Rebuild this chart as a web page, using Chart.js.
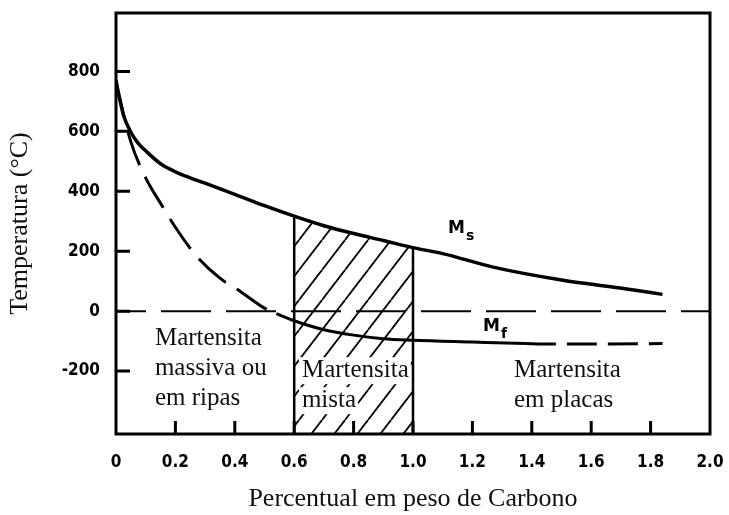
<!DOCTYPE html>
<html>
<head>
<meta charset="utf-8">
<script src="https://cdn.jsdelivr.net/npm/chart.js@4.4.1/dist/chart.umd.min.js"></script>
<style>
  html, body { margin: 0; padding: 0; background: #fff; }
</style>
</head>
<body>
<canvas id="martChart" width="729" height="515"></canvas>
<script>
// Valores (temperatura em °C x % em peso de carbono)
const xTicks = [0, 0.2, 0.4, 0.6, 0.8, 1.0, 1.2, 1.4, 1.6, 1.8, 2.0];
const xTickLabels = ['0', '0.2', '0.4', '0.6', '0.8', '1.0', '1.2', '1.4', '1.6', '1.8', '2.0'];
const yTicks = [-200, 0, 200, 400, 600, 800];
const yTickLabels = ['-200', '0', '200', '400', '600', '800'];

// Curva Ms (início da martensita)
const msCarbon = [0, 0.01, 0.025, 0.05, 0.075, 0.1, 0.15, 0.2, 0.25, 0.3, 0.4, 0.5, 0.6, 0.7, 0.8, 0.9, 1.0, 1.1, 1.27, 1.5, 1.72, 1.84];
const msTemp   = [770, 720, 655, 597, 560, 535, 492, 465, 445, 427, 390, 352, 317, 285, 259, 236, 212, 192, 147, 104, 74, 56];

// Curva Mf (fim da martensita)
const mfCarbon = [0, 0.05, 0.1, 0.15, 0.2, 0.27, 0.35, 0.42, 0.5, 0.54, 0.6, 0.7, 0.8, 0.9, 1.0, 1.2, 1.38, 1.5, 1.65, 1.84];
const mfTemp   = [760, 565, 445, 360, 280, 185, 110, 65, 10, -8, -32, -62, -80, -92, -97, -103, -108, -110, -110, -108];

// Faixa da martensita mista e linha de 0 °C
const mistaLimits = [0.6, 1.0];
const zeroCarbon = [0, 2.0];
const zeroTemp = [0, 0];

const yMin = -410, yMax = 995;
const mfSolidFrom = 0.54, mfSolidTo = 1.38;

const toPoints = (xs, ys) => xs.map((v, i) => ({ x: v, y: ys[i] }));
const msPoints = toPoints(msCarbon, msTemp);
const mistaPoints = msPoints.filter(p => p.x >= mistaLimits[0] && p.x <= mistaLimits[1]);

// Padrão hachurado para a região mista
function hatchPattern() {
  const w = 23, h = 30;
  const c = document.createElement('canvas');
  c.width = w; c.height = h;
  const g = c.getContext('2d');
  g.strokeStyle = '#000';
  g.lineWidth = 1.8;
  for (const dx of [-w, 0, w]) {
    g.beginPath();
    g.moveTo(dx, h);
    g.lineTo(dx + w, 0);
    g.stroke();
  }
  return g.createPattern(c, 'repeat');
}

const regionLabels = [
  { lines: ['Martensita', 'massiva ou', 'em ripas'], x: 0.131, y: -90, box: false },
  { lines: ['Martensita', 'mista'], x: 0.626, y: -197, box: true },
  { lines: ['Martensita', 'em placas'], x: 1.34, y: -197, box: false }
];

// Moldura, marcas internas e textos
const extras = {
  id: 'extras',
  afterDatasetsDraw(chart) {
    const { ctx, chartArea: a, scales: { x, y } } = chart;
    ctx.save();
    ctx.strokeStyle = '#000';
    ctx.lineWidth = 3;
    ctx.strokeRect(a.left, a.top, a.right - a.left, a.bottom - a.top);
    ctx.beginPath();
    yTicks.forEach(v => {
      const py = y.getPixelForValue(v);
      ctx.moveTo(a.left, py);
      ctx.lineTo(a.left + 14, py);
    });
    xTicks.slice(1, -1).forEach(v => {
      const px = x.getPixelForValue(v);
      ctx.moveTo(px, a.bottom);
      ctx.lineTo(px, a.bottom - 13);
    });
    ctx.stroke();

    ctx.textBaseline = 'middle';
    ctx.textAlign = 'left';
    ctx.font = '25px "Liberation Serif", serif';
    regionLabels.forEach(r => {
      const px = x.getPixelForValue(r.x), py = y.getPixelForValue(r.y);
      r.lines.forEach((t, i) => {
        if (r.box) {
          ctx.fillStyle = '#fff';
          ctx.fillRect(px - 3, py + i * 30 - 13, ctx.measureText(t).width + 5, 27);
        }
        ctx.fillStyle = '#111';
        ctx.fillText(t, px, py + i * 30);
      });
    });

    // Ms e Mf com subscrito
    const sub = (main, s, vx, vy) => {
      const px = x.getPixelForValue(vx), py = y.getPixelForValue(vy);
      ctx.fillStyle = '#000';
      ctx.font = 'bold 17px "DejaVu Sans", sans-serif';
      ctx.fillText(main, px, py);
      const w = ctx.measureText(main).width;
      ctx.font = 'bold 14px "DejaVu Sans", sans-serif';
      ctx.fillText(s, px + w + 1, py + 7);
    };
    sub('M', 's', 1.118, 274);
    sub('M', 'f', 1.236, -53);
    ctx.restore();
  }
};

const noPad = s => { s.paddingLeft = 0; s.paddingRight = 0; s.paddingTop = 0; s.paddingBottom = 0; };
const tickFont = { family: '"DejaVu Sans Condensed", "DejaVu Sans", sans-serif', size: 17, weight: 'bold' };
const titleFont = { family: '"Liberation Serif", serif', size: 26, lineHeight: 1.2 };

new Chart(document.getElementById('martChart'), {
  type: 'line',
  data: {
    datasets: [
      {
        label: 'Ms',
        data: msPoints,
        borderColor: '#000',
        borderWidth: 3.5,
        pointRadius: 0,
        cubicInterpolationMode: 'monotone',
        fill: false
      },
      {
        label: 'Mf',
        data: toPoints(mfCarbon, mfTemp),
        borderColor: '#000',
        borderWidth: 3,
        pointRadius: 0,
        cubicInterpolationMode: 'monotone',
        fill: false,
        segment: {
          borderDash: ctx => {
            const px = ctx.p0.parsed.x;
            if (px < mfSolidFrom) return [36, 13];
            if (px >= mfSolidTo) return [30, 11];
            return [];
          }
        }
      },
      {
        label: 'mista',
        data: mistaPoints,
        borderWidth: 0,
        borderColor: 'rgba(0,0,0,0)',
        backgroundColor: hatchPattern(),
        pointRadius: 0,
        cubicInterpolationMode: 'monotone',
        fill: 'start'
      },
      ...mistaLimits.map(c => ({
        label: 'limite ' + c,
        data: [{ x: c, y: yMin }, { x: c, y: msTemp[msCarbon.indexOf(c)] }],
        borderColor: '#000',
        borderWidth: 2.5,
        pointRadius: 0,
        fill: false
      })),
      {
        label: '0 °C',
        data: toPoints(zeroCarbon, zeroTemp),
        borderColor: '#000',
        borderWidth: 2,
        borderDash: [50, 15],
        borderDashOffset: 20,
        pointRadius: 0,
        fill: false
      }
    ]
  },
  options: {
    responsive: false,
    animation: false,
    layout: { padding: { top: 13, right: 19, left: 0, bottom: 0 } },
    plugins: {
      legend: { display: false },
      tooltip: { enabled: false }
    },
    scales: {
      x: {
        type: 'linear',
        min: 0,
        max: 2.0,
        afterBuildTicks: s => { s.ticks = xTicks.map(v => ({ value: v })); },
        afterFit: s => { s.height = 81; noPad(s); },
        grid: { display: false, drawTicks: false },
        border: { display: false },
        ticks: {
          padding: 18,
          color: '#000',
          font: tickFont,
          maxRotation: 0,
          callback: (v, i) => xTickLabels[i]
        },
        title: {
          display: true,
          text: 'Percentual em peso de Carbono',
          color: '#111',
          font: titleFont,
          padding: { top: 0, bottom: 0 }
        }
      },
      y: {
        type: 'linear',
        min: yMin,
        max: yMax,
        afterBuildTicks: s => { s.ticks = yTicks.map(v => ({ value: v })); },
        afterFit: s => { s.width = 116; noPad(s); },
        grid: { display: false, drawTicks: false },
        border: { display: false },
        ticks: {
          padding: 16,
          color: '#000',
          font: tickFont,
          callback: (v, i) => yTickLabels[i]
        },
        title: {
          display: true,
          text: 'Temperatura (°C)',
          color: '#111',
          font: titleFont,
          padding: { top: 5, bottom: 0 }
        }
      }
    }
  },
  plugins: [extras]
});
</script>
</body>
</html>
